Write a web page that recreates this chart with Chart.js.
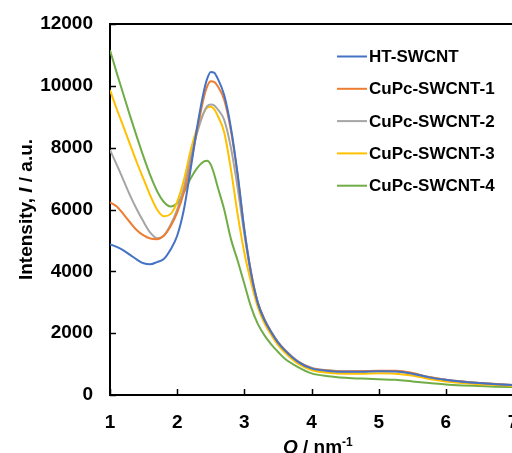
<!DOCTYPE html>
<html>
<head>
<meta charset="utf-8">
<script src="https://cdn.jsdelivr.net/npm/chart.js@4.4.1/dist/chart.umd.min.js"></script>
<style>
  html, body { margin: 0; padding: 0; background: #fff; overflow: hidden; width: 512px; height: 453px; }
  #wrap { width: 530px; height: 453px; }
</style>
</head>
<body>
<div id="wrap"><canvas id="chart" width="530" height="453"></canvas></div>
<script>
// Q values (nm-1) shared by all curves
const qValues = [1.0, 1.1, 1.2, 1.3, 1.4, 1.5, 1.6, 1.7, 1.8, 1.9, 2.0, 2.1, 2.2, 2.3, 2.4, 2.45, 2.5, 2.55, 2.6, 2.7, 2.8, 2.9, 3.0, 3.1, 3.2, 3.3, 3.4, 3.5, 3.6, 3.8, 4.0, 4.25, 4.5, 4.75, 5.0, 5.25, 5.5, 5.75, 6.0, 6.25, 6.5, 6.75, 7.0];

const htSwcnt = [4874, 4790, 4680, 4530, 4380, 4260, 4230, 4300, 4400, 4700, 5150, 6000, 7300, 8700, 9850, 10250, 10450, 10430, 10250, 9700, 8650, 7150, 5350, 3950, 2980, 2420, 2030, 1700, 1450, 1070, 860, 780, 750, 750, 765, 760, 690, 570, 490, 430, 385, 350, 320];
const cupc1 = [6230, 6100, 5850, 5580, 5330, 5160, 5060, 5040, 5150, 5450, 5900, 6550, 7450, 8600, 9650, 10000, 10150, 10130, 10000, 9550, 8550, 7100, 5350, 3980, 3000, 2440, 2040, 1710, 1460, 1080, 870, 790, 760, 765, 785, 785, 710, 580, 495, 435, 390, 355, 325];
const cupc2 = [7924, 7450, 6950, 6450, 6000, 5600, 5250, 5070, 5150, 5500, 6000, 6700, 7650, 8500, 9150, 9350, 9400, 9370, 9250, 8900, 8000, 6700, 5200, 3900, 3000, 2450, 2050, 1720, 1470, 1090, 880, 800, 770, 770, 780, 775, 705, 580, 495, 435, 390, 355, 325];
const cupc3 = [9864, 9250, 8680, 8100, 7520, 6980, 6450, 6000, 5780, 5850, 6250, 6950, 7900, 8650, 9150, 9300, 9320, 9250, 9050, 8500, 7300, 5850, 4600, 3650, 2850, 2320, 1950, 1620, 1380, 1010, 810, 720, 690, 690, 700, 690, 630, 520, 440, 390, 350, 320, 295];
const cupc4 = [11150, 10420, 9720, 9020, 8350, 7700, 7100, 6600, 6250, 6100, 6200, 6550, 7000, 7350, 7560, 7580, 7450, 7150, 6750, 6000, 5050, 4350, 3600, 2850, 2300, 1930, 1640, 1400, 1180, 900, 700, 610, 560, 530, 510, 490, 440, 390, 340, 310, 290, 270, 255];

const seriesNames = ['HT-SWCNT', 'CuPc-SWCNT-1', 'CuPc-SWCNT-2', 'CuPc-SWCNT-3', 'CuPc-SWCNT-4'];
const seriesColors = ['#4472C4', '#ED7D31', '#A5A5A5', '#FFC000', '#70AD47'];
const xTicks = [1, 2, 3, 4, 5, 6, 7];
const yTicks = [0, 2000, 4000, 6000, 8000, 10000, 12000];

const FONT = 'Arial, "Liberation Sans", sans-serif';

function toPoints(vals) {
  return vals.map((v, i) => ({ x: qValues[i], y: v }));
}

const allSeries = [htSwcnt, cupc1, cupc2, cupc3, cupc4];
// order: blue drawn last so it sits on top
const datasets = allSeries.map((vals, i) => ({
  label: seriesNames[i],
  data: toPoints(vals),
  borderColor: seriesColors[i],
  backgroundColor: seriesColors[i],
  borderWidth: 2,
  pointRadius: 0,
  cubicInterpolationMode: 'monotone',
  order: i
}));

// inner tick marks, top frame line, axis titles and legend
const extras = {
  id: 'extras',
  afterDraw(chart) {
    const ctx = chart.ctx;
    const xs = chart.scales.x, ys = chart.scales.y;
    const a = chart.chartArea;
    ctx.save();
    ctx.strokeStyle = '#000';
    ctx.lineWidth = 2;
    // top frame
    ctx.beginPath();
    ctx.moveTo(a.left - 1, a.top);
    ctx.lineTo(a.right + 20, a.top);
    ctx.stroke();
    // ticks pointing inward
    ctx.lineWidth = 1.5;
    yTicks.forEach(t => {
      const y = Math.round(ys.getPixelForValue(t)) + 0.5;
      ctx.beginPath();
      ctx.moveTo(a.left, y);
      ctx.lineTo(a.left + 6, y);
      ctx.stroke();
    });
    xTicks.forEach(t => {
      const x = Math.round(xs.getPixelForValue(t)) + 0.5;
      ctx.beginPath();
      ctx.moveTo(x, a.bottom);
      ctx.lineTo(x, a.bottom - 6);
      ctx.stroke();
    });

    ctx.fillStyle = '#000';
    ctx.textBaseline = 'alphabetic';
    ctx.textAlign = 'left';

    // x title: Q / nm-1
    const bold = 'bold 19px ' + FONT;
    const boldIt = 'italic bold 19px ' + FONT;
    let x = 283, yb = 453;
    ctx.font = boldIt;
    ctx.fillText('Q', x, yb);
    x += ctx.measureText('Q').width;
    ctx.font = bold;
    ctx.fillText(' / nm', x, yb);
    x += ctx.measureText(' / nm').width;
    ctx.font = 'bold 12px ' + FONT;
    ctx.fillText('-1', x, yb - 7);

    // y title: Intensity, I / a.u.
    const parts = [['Intensity, ', bold], ['I', boldIt], [' / a.u.', bold]];
    let total = 0;
    parts.forEach(p => { ctx.font = p[1]; total += ctx.measureText(p[0]).width; });
    ctx.translate(32, (a.top + a.bottom) / 2);
    ctx.rotate(-Math.PI / 2);
    let px = -total / 2;
    parts.forEach(p => {
      ctx.font = p[1];
      ctx.fillText(p[0], px, 0);
      px += ctx.measureText(p[0]).width;
    });
    ctx.setTransform(1, 0, 0, 1, 0, 0);

    // legend
    ctx.font = 'bold 17px ' + FONT;
    ctx.textBaseline = 'middle';
    seriesNames.forEach((name, i) => {
      const ly = 56.5 + i * 32.3;
      ctx.strokeStyle = seriesColors[i];
      ctx.lineWidth = 2;
      ctx.beginPath();
      ctx.moveTo(337, ly);
      ctx.lineTo(367, ly);
      ctx.stroke();
      ctx.fillText(name, 369, ly + 1);
    });
    ctx.restore();
  }
};

new Chart(document.getElementById('chart'), {
  type: 'line',
  data: { datasets: datasets },
  options: {
    responsive: false,
    animation: false,
    events: [],
    layout: { padding: { top: 24, right: 17, left: 0, bottom: 0 } },
    plugins: { legend: { display: false }, tooltip: { enabled: false } },
    scales: {
      x: {
        type: 'linear',
        min: 1, max: 7,
        afterFit: s => { s.height = 58; s.paddingLeft = 0; s.paddingRight = 0; },
        afterBuildTicks: s => { s.ticks = xTicks.map(v => ({ value: v })); },
        grid: { display: false, drawTicks: false },
        border: { display: true, color: '#000', width: 2 },
        ticks: { padding: 16, color: '#000', font: { family: FONT, size: 19, weight: 'bold' }, callback: v => String(v) }
      },
      y: {
        min: 0, max: 12000,
        afterFit: s => { s.width = 110; s.paddingTop = 0; s.paddingBottom = 0; },
        afterBuildTicks: s => { s.ticks = yTicks.map(v => ({ value: v })); },
        grid: { display: false, drawTicks: false },
        border: { display: true, color: '#000', width: 2 },
        ticks: { padding: 17, color: '#000', font: { family: FONT, size: 19, weight: 'bold' }, callback: v => String(v) }
      }
    }
  },
  plugins: [extras]
});
</script>
</body>
</html>
